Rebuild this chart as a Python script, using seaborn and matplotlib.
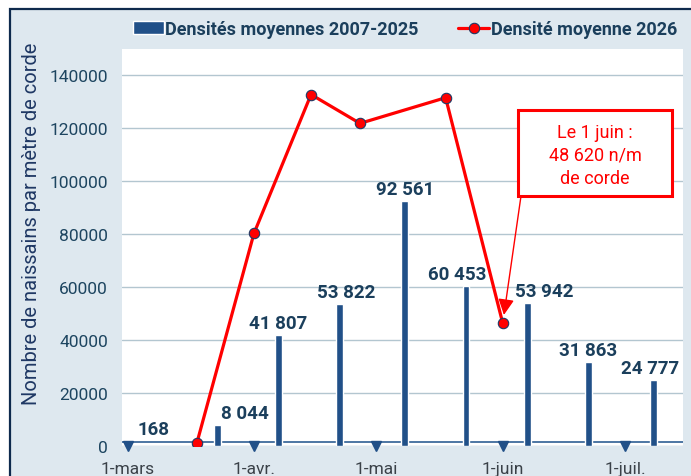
import numpy as np
import pandas as pd
import seaborn as sns
import matplotlib.pyplot as plt
import matplotlib.dates as mdates
from matplotlib.patches import Rectangle

# moyennes 2007-2025 (barres)
bar_dates = ['2026-03-15', '2026-03-23', '2026-04-07', '2026-04-22', '2026-05-08',
             '2026-05-23', '2026-06-07', '2026-06-22', '2026-07-08']
bar_values = [168, 8044, 41807, 53822, 92561, 60453, 53942, 31863, 24777]

# 2026 (courbe)
line_dates = ['2026-03-18', '2026-04-01', '2026-04-15', '2026-04-27', '2026-05-18', '2026-06-01']
line_values = [1100, 80300, 132800, 121900, 131600, 46400]

month_ticks = ['2026-03-01', '2026-04-01', '2026-05-01', '2026-06-01', '2026-07-01']
month_labels = ['1-mars', '1-avr.', '1-mai', '1-juin', '1-juil.']

bar_name = 'Densités moyennes 2007-2025'
line_name = 'Densité moyenne 2026'
note = 'Le 1 juin :\n48 620 n/m\nde corde'

if __name__ == '__main__':
    sns.set_theme(style="white")
    plt.rcParams['font.family'] = ['Roboto', 'DejaVu Sans']

    navy = '#215088'
    txt = '#1b3f5c'
    H = 477

    df_bar = pd.DataFrame({'date': pd.to_datetime(bar_dates), 'val': bar_values})
    df_line = pd.DataFrame({'date': pd.to_datetime(line_dates), 'val': line_values})

    fig = plt.figure(figsize=(6.91, 4.77), dpi=100)
    fig.patch.set_facecolor('white')
    fig.patches.append(Rectangle((10 / 691, -0.1), 1.1, 1.1 - 10 / H,
                                 transform=fig.transFigure, facecolor='#dee8ef',
                                 edgecolor='#0e2a4d', lw=1.6, zorder=-10))

    ax = fig.add_axes([122 / 691, 30 / H, 561 / 691, 397 / H])
    ax.set_facecolor('white')

    bars = ax.bar(df_bar['date'], df_bar['val'], width=1.7, color=navy, zorder=3,
                  label=bar_name)
    sns.lineplot(data=df_line, x='date', y='val', ax=ax, color='#ff0000', lw=2.3,
                 marker='o', markersize=7.5, markerfacecolor='#ff0000',
                 markeredgecolor='#1f3864', markeredgewidth=0.8, zorder=5,
                 label=line_name)

    # étiquettes des barres
    dx = [-31, 28, 0, 7, 0, -9, 17, 0, -4]
    dy = [8, 3, 3, 3, 3, 3, 3, 3, 3]
    for d, v, ox, oy in zip(df_bar['date'], bar_values, dx, dy):
        ax.annotate(f'{v:,}'.replace(',', ' '), (d, v), xytext=(ox, oy),
                    textcoords='offset pixels', ha='center', va='bottom',
                    fontsize=13.5, fontweight='bold', color=txt, zorder=6)

    x0 = mdates.date2num(pd.Timestamp('2026-03-01'))
    ax.set_xlim(x0 - 1.35, x0 + 136.2)
    ax.set_ylim(0, 150000)
    ax.set_yticks(np.arange(0, 140001, 20000))
    ax.yaxis.grid(True, color='#b3c6d0', lw=1)
    ax.xaxis.grid(False)
    ax.set_axisbelow(True)
    ax.axhline(1500, color='#2f5f94', lw=1.2, zorder=2)
    for s in ax.spines.values():
        s.set_visible(False)

    ticks = pd.to_datetime(month_ticks)
    ax.set_xticks(ticks)
    ax.set_xticklabels(month_labels)
    ax.plot(ticks, [0] * len(ticks), 'v', color=navy, markersize=7,
            transform=ax.get_xaxis_transform(), clip_on=False, zorder=4)
    ax.tick_params(axis='x', length=0, pad=11, labelsize=12.5, labelcolor='#3a4148')
    ax.tick_params(axis='y', length=0, pad=10, labelsize=12.5, labelcolor='#1d4560')
    ax.set_xlabel('')
    ax.set_ylabel('Nombre de naissains par mètre de corde', fontsize=14.5,
                  color='#1f3864')
    ax.yaxis.set_label_coords(-0.145, 0.562)

    # encadré
    fig.patches.append(Rectangle((518, H - 197), 154, 86, transform=None,
                                 facecolor='white', edgecolor='#ff0000', lw=2.2,
                                 zorder=8))
    fig.text(595 / 691, 1 - 156 / H, note, ha='center', va='center', zorder=9,
             fontsize=13, color='#ff0000', linespacing=1.35)
    pt = (pd.Timestamp('2026-06-01'), line_values[-1])
    ax.annotate('', xy=pt, xytext=(521, H - 197), textcoords='figure pixels',
                arrowprops=dict(arrowstyle='-|>', color='#ff0000', lw=1,
                                mutation_scale=24, shrinkA=0, shrinkB=6), zorder=7)

    ax.get_legend().remove()
    leg = fig.legend([bars, ax.lines[0]], [bar_name, line_name], loc='center',
                     bbox_to_anchor=(405 / 691, 1 - 30 / H),
                     ncol=2, frameon=False, handlelength=1.7, handletextpad=0.1,
                     columnspacing=2.2, prop={'weight': 'bold', 'size': 13})
    for t in leg.get_texts():
        t.set_color(txt)

    plt.savefig('out.png', dpi=100)
